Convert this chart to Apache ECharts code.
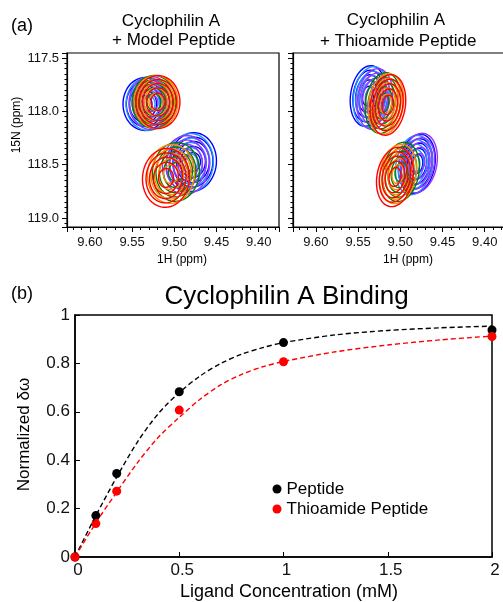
<!DOCTYPE html>
<html><head><meta charset="utf-8">
<script src="https://cdn.jsdelivr.net/npm/echarts@6/dist/echarts.min.js"></script>
<style>html,body{margin:0;padding:0;background:#fff}#c{width:503px;height:602px}</style>
</head><body><div id="c"></div>
<script>
// ---------------- data ----------------
// (b) titration
const concentrations = [0, 0.1, 0.2, 0.5, 1, 2];
const peptideShift = [0, 0.171, 0.345, 0.683, 0.886, 0.938];
const thioShift = [0, 0.138, 0.272, 0.607, 0.807, 0.911];
const fitConc = [0, 0.1, 0.2, 0.3, 0.4, 0.5, 0.6, 0.7, 0.8, 0.9, 1.0, 1.25, 1.5, 1.75, 2.0];
const peptideFit = [0, 0.171, 0.33, 0.476, 0.593, 0.679, 0.748, 0.800, 0.838, 0.865, 0.886, 0.918, 0.936, 0.947, 0.954];
const thioFit = [0, 0.141, 0.268, 0.39, 0.495, 0.577, 0.652, 0.712, 0.755, 0.786, 0.808, 0.848, 0.876, 0.897, 0.913];
const seriesNames = ['Peptide', 'Thioamide Peptide'];

// (a) HSQC peaks, one entry per titration point (0, 0.1, 0.2, 0.5, 1, 2 mM)
const titrationColors = ['#0000ff', '#1e90ff', '#9933ff', '#008000', '#ff8c00', '#ff0000'];
const modelUpperH = [9.5347, 9.5311, 9.5276, 9.5240, 9.5217, 9.5193];
const modelUpperN = [117.931, 117.931, 117.922, 117.912, 117.912, 117.912];
const modelLowerH = [9.4779, 9.4815, 9.4862, 9.4980, 9.5039, 9.5098];
const modelLowerN = [118.475, 118.484, 118.503, 118.568, 118.587, 118.624];
const thioUpperH = [9.5382, 9.5347, 9.5300, 9.5205, 9.5170, 9.5146];
const thioUpperN = [117.856, 117.865, 117.884, 117.922, 117.931, 117.940];
const thioLowerH = [9.4803, 9.4838, 9.4779, 9.4992, 9.5027, 9.5063];
const thioLowerN = [118.493, 118.503, 118.484, 118.568, 118.587, 118.615];
// outer-contour half widths (ppm): [1H, 15N]
const modelUpperWidth = [0.026, 0.248];
const modelLowerWidth = [0.0278, 0.276];
const thioUpperWidth = [0.0207, 0.286];
const thioLowerWidth = [0.0213, 0.281];
const hAxisRange = [9.376, 9.627];
const nAxisRange = [117.453, 119.084];

// ---------------- chart ----------------
const FONT = '"Liberation Sans", Arial, sans-serif';
const CONTOUR_SCALE = [1, 0.85, 0.7, 0.53, 0.32];
const chart = echarts.init(document.getElementById('c'), null, {renderer: 'canvas'});

function ellipsePoints(c, rx, ry, tilt) {
  const pts = [];
  const ct = Math.cos(tilt), st = Math.sin(tilt);
  for (let k = 0; k < 60; k++) {
    const t = k / 60 * Math.PI * 2;
    const a = rx * Math.cos(t), b = ry * Math.sin(t);
    pts.push([c[0] + a * ct - b * st, c[1] + a * st + b * ct]);
  }
  return pts;
}

function peakSeries(grid, hs, ns, width, tiltDeg) {
  const data = hs.map((h, i) => [h, ns[i], width[0], width[1], i]);
  const tilt = tiltDeg * Math.PI / 180;
  return {
    type: 'custom', xAxisIndex: grid, yAxisIndex: grid, silent: true, clip: true,
    encode: {x: 0, y: 1},
    data: data,
    renderItem: function (params, api) {
      const c = api.coord([api.value(0), api.value(1)]);
      const sz = api.size([api.value(2), api.value(3)]);
      const color = titrationColors[api.value(4)];
      return {
        type: 'group',
        children: CONTOUR_SCALE.map(f => ({
          type: 'polygon',
          shape: {points: ellipsePoints(c, Math.abs(sz[0]) * f, Math.abs(sz[1]) * f, tilt)},
          style: {fill: null, stroke: color, lineWidth: 1.4}
        }))
      };
    }
  };
}

function nmrX(idx) {
  return {
    type: 'value', gridIndex: idx, inverse: true, min: hAxisRange[0], max: hAxisRange[1], splitNumber: 5,
    axisLine: {show: true, lineStyle: {color: '#000', width: 1.2}},
    axisTick: {show: true, inside: false, length: 5, lineStyle: {color: '#000', width: 1}},
    minorTick: {show: true, splitNumber: 5, length: 3, lineStyle: {color: '#000', width: 1}},
    axisLabel: {show: true, fontSize: 13, fontFamily: FONT, color: '#111', margin: 9,
      showMinLabel: false, showMaxLabel: false, formatter: v => v.toFixed(2)},
    splitLine: {show: false}, minorSplitLine: {show: false}
  };
}
function nmrY(idx, labels) {
  return {
    type: 'value', gridIndex: idx, inverse: true, min: nAxisRange[0], max: nAxisRange[1], splitNumber: 3,
    axisLine: {show: true, lineStyle: {color: '#000', width: 1.2}},
    axisTick: {show: true, inside: false, length: 5, lineStyle: {color: '#000', width: 1}},
    minorTick: {show: true, splitNumber: 10, length: 2.5, lineStyle: {color: '#000', width: 1}},
    axisLabel: {show: labels, fontSize: 13, fontFamily: FONT, color: '#111', margin: 8,
      showMinLabel: false, showMaxLabel: false, formatter: v => v.toFixed(1)},
    splitLine: {show: false}, minorSplitLine: {show: false}
  };
}

function txt(x, y, s, size, opts) {
  return Object.assign({
    type: 'text', x: x, y: y, silent: true,
    style: {text: s, font: size + 'px ' + FONT, fill: '#000', textAlign: 'center', textVerticalAlign: 'middle'}
  }, opts || {});
}

const option = {
  animation: false,
  backgroundColor: '#fff',
  textStyle: {fontFamily: FONT},
  grid: [
    {left: 67, top: 53, width: 212, height: 174, show: true, borderColor: '#000', borderWidth: 1.2, outerBoundsMode: 'none', containLabel: false},
    {left: 293, top: 53, width: 212, height: 174, show: true, borderColor: '#000', borderWidth: 1.2, outerBoundsMode: 'none', containLabel: false},
    {left: 75, top: 315, width: 417, height: 242, show: true, borderColor: '#000', borderWidth: 1.5, outerBoundsMode: 'none', containLabel: false}
  ],
  xAxis: [
    nmrX(0), nmrX(1),
    {type: 'value', gridIndex: 2, min: 0, max: 2, interval: 0.5,
      axisLine: {show: true, lineStyle: {color: '#000', width: 1.5}},
      axisTick: {show: true, inside: true, length: 5, lineStyle: {color: '#000', width: 1}},
      axisLabel: {fontSize: 17, fontFamily: FONT, color: '#111', margin: 5, padding: [0, 0, 0, 6]},
      splitLine: {show: false}}
  ],
  yAxis: [
    nmrY(0, true), nmrY(1, false),
    {type: 'value', gridIndex: 2, min: 0, max: 1, interval: 0.2,
      axisLine: {show: true, lineStyle: {color: '#000', width: 1.5}},
      axisTick: {show: true, inside: true, length: 5, lineStyle: {color: '#000', width: 1}},
      axisLabel: {fontSize: 17, fontFamily: FONT, color: '#111', margin: 5},
      splitLine: {show: false}}
  ],
  legend: {
    orient: 'vertical', left: 272.5, top: 480.5, padding: 0, itemGap: 3,
    itemWidth: 9, itemHeight: 9, selectedMode: false,
    textStyle: {fontSize: 17, fontFamily: FONT, color: '#000', lineHeight: 17},
    data: [{name: seriesNames[0], icon: 'circle'}, {name: seriesNames[1], icon: 'circle'}]
  },
  graphic: [
    txt(11, 26, '(a)', 18, {style: {text: '(a)', font: '18px ' + FONT, fill: '#000', textAlign: 'left', textVerticalAlign: 'middle'}}),
    txt(171, 21.3, 'Cyclophilin A', 17),
    txt(173.7, 40.7, '+ Model Peptide', 17),
    txt(396, 20.7, 'Cyclophilin A', 17),
    txt(398.3, 41.5, '+ Thioamide Peptide', 17),
    txt(17, 125, '15N (ppm)', 12, {rotation: Math.PI / 2}),
    txt(182, 260, '1H (ppm)', 12),
    txt(408, 260, '1H (ppm)', 12),
    txt(11, 294.4, '(b)', 18, {style: {text: '(b)', font: '18px ' + FONT, fill: '#000', textAlign: 'left', textVerticalAlign: 'middle'}}),
    txt(286.5, 297, 'Cyclophilin A Binding', 26),
    txt(289, 592, 'Ligand Concentration (mM)', 18),
    txt(24, 434.5, 'Normalized δω', 17, {rotation: Math.PI / 2})
  ],
  series: [
    peakSeries(0, modelUpperH, modelUpperN, modelUpperWidth, 0),
    peakSeries(0, modelLowerH, modelLowerN, modelLowerWidth, 5),
    peakSeries(1, thioUpperH, thioUpperN, thioUpperWidth, 8),
    peakSeries(1, thioLowerH, thioLowerN, thioLowerWidth, 10),
    {type: 'line', name: 'Peptide fit', xAxisIndex: 2, yAxisIndex: 2, silent: true,
      data: fitConc.map((x, i) => [x, peptideFit[i]]), smooth: 0.3, showSymbol: false, symbol: 'none',
      lineStyle: {color: '#000', width: 1.4, type: [5, 3]}},
    {type: 'line', name: 'Thioamide fit', xAxisIndex: 2, yAxisIndex: 2, silent: true,
      data: fitConc.map((x, i) => [x, thioFit[i]]), smooth: 0.3, showSymbol: false, symbol: 'none',
      lineStyle: {color: '#ff0000', width: 1.4, type: [5, 3]}},
    {type: 'scatter', name: seriesNames[0], xAxisIndex: 2, yAxisIndex: 2, symbol: 'circle', symbolSize: 9,
      itemStyle: {color: '#000', opacity: 1}, data: concentrations.map((x, i) => [x, peptideShift[i]]), clip: false},
    {type: 'scatter', name: seriesNames[1], xAxisIndex: 2, yAxisIndex: 2, symbol: 'circle', symbolSize: 9,
      itemStyle: {color: '#ff0000', opacity: 1}, data: concentrations.map((x, i) => [x, thioShift[i]]), clip: false}
  ]
};
chart.setOption(option);
</script>
</body></html>
